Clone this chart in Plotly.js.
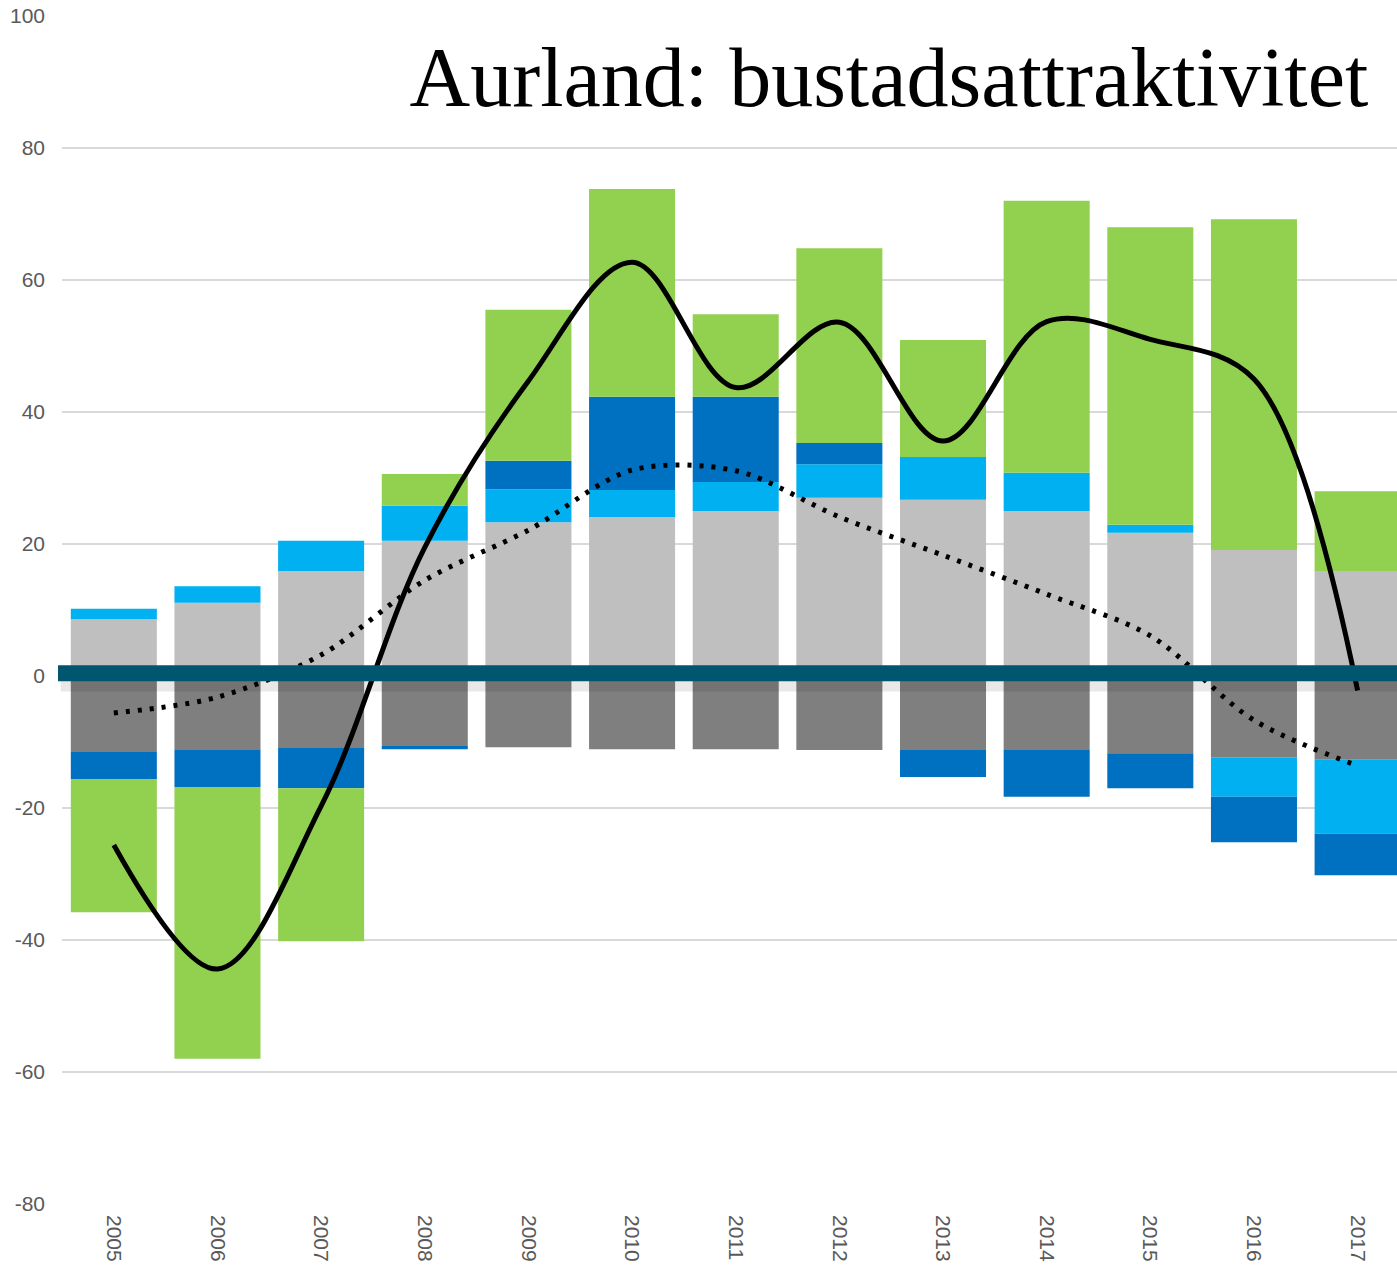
<!DOCTYPE html>
<html>
<head>
<meta charset="utf-8">
<script src="https://cdn.plot.ly/plotly-3.0.1.min.js"></script>
<style>html,body{margin:0;padding:0;background:#fff;}</style>
</head>
<body>
<div id="chart" style="width:1397px;height:1268px;"></div>
<script>
const years = ['2005','2006','2007','2008','2009','2010','2011','2012','2013','2014','2015','2016','2017'];
const grayPos = [8.6, 11.1, 15.9, 20.5, 23.3, 24.1, 25.0, 27.0, 26.7, 25.0, 21.7, 19.1, 15.8];
const grayNeg = [-11.5, -11.2, -10.9, -10.6, -10.8, -11.1, -11.1, -11.2, -11.2, -11.2, -11.7, -12.3, -12.7];
const lightBlue = [1.6, 2.5, 4.6, 5.3, 5.0, 4.1, 4.4, 5.1, 6.5, 5.8, 1.2, -6.0, -11.2];
const darkBlue = [-4.1, -5.6, -6.1, -0.5, 4.3, 14.1, 12.9, 3.2, -4.1, -7.1, -5.3, -6.9, -6.3];
const green = [-20.2, -41.2, -23.2, 4.8, 22.9, 31.5, 12.5, 29.5, 17.7, 41.2, 45.1, 50.1, 12.2];
const total = [-25.6, -44.4, -19.7, 19.5, 44.7, 62.7, 43.7, 53.6, 35.6, 53.7, 51.0, 45.0, -2.2];
const trend = [-5.6, -3.2, 3.2, 14.5, 22.1, 31.2, 31.1, 24.1, 18.3, 12.4, 6.1, -6.7, -13.6];
const yTicks = [-80, -60, -40, -20, 0, 20, 40, 60, 80, 100];

function bar(y, color) {
  return {type: 'bar', x: years, y: y, marker: {color: color, line: {width: 0}}, hoverinfo: 'skip', showlegend: false};
}
const data = [
  bar(grayPos, '#bfbfbf'),
  bar(grayNeg, '#7f7f7f'),
  bar(lightBlue, '#00b0f0'),
  bar(darkBlue, '#0070c0'),
  bar(green, '#92d050'),
  {type: 'scatter', mode: 'lines', x: years, y: total, line: {color: '#000', width: 5, shape: 'spline', smoothing: 1}, showlegend: false},
  {type: 'scatter', mode: 'lines', x: years, y: trend, line: {color: '#000', width: 5, shape: 'spline', smoothing: 0.9, dash: '4px,8px'}, showlegend: false}
];
const layout = {
  width: 1397, height: 1268,
  margin: {l: 62, r: 0, t: 16, b: 64},
  paper_bgcolor: '#fff', plot_bgcolor: '#fff',
  barmode: 'relative', bargap: 0.17,
  font: {family: 'Liberation Sans, Arial, sans-serif', color: '#595959'},
  title: {
    text: 'Aurland: bustadsattraktivitet',
    font: {family: 'Liberation Serif, Times New Roman, serif', size: 84, color: '#000'},
    x: 1367/1397, xanchor: 'right', xref: 'paper',
    y: 1 - 77/1268, yanchor: 'middle', yref: 'container'
  },
  xaxis: {
    type: 'category', range: [-0.5, 12.38],
    tickangle: 90, tickfont: {size: 21, color: '#595959'},
    ticklabelstandoff: 10,
    showgrid: false, zeroline: false, showline: false, ticks: '',
    fixedrange: true
  },
  yaxis: {
    range: [-80, 100], tickvals: yTicks, ticktext: yTicks.map(String),
    tickfont: {size: 21, color: '#595959'},
    ticklabelstandoff: 16,
    showgrid: true, gridcolor: '#d9d9d9', gridwidth: 2,
    zeroline: false, showline: false, ticks: '', ticklen: 0,
    fixedrange: true
  },
  shapes: [
    {type: 'line', layer: 'above', xref: 'paper', yref: 'y', x0: -0.001, x1: 1.01, y0: -1.0, y1: -1.0,
     line: {color: 'rgba(0,0,0,0.09)', width: 18}},
    {type: 'line', layer: 'above', xref: 'paper', yref: 'y', x0: -0.003, x1: 1.01, y0: 0.4, y1: 0.4,
     line: {color: '#00566f', width: 16}}
  ]
};
Plotly.newPlot('chart', data, layout, {displayModeBar: false, staticPlot: true});
</script>
</body>
</html>
